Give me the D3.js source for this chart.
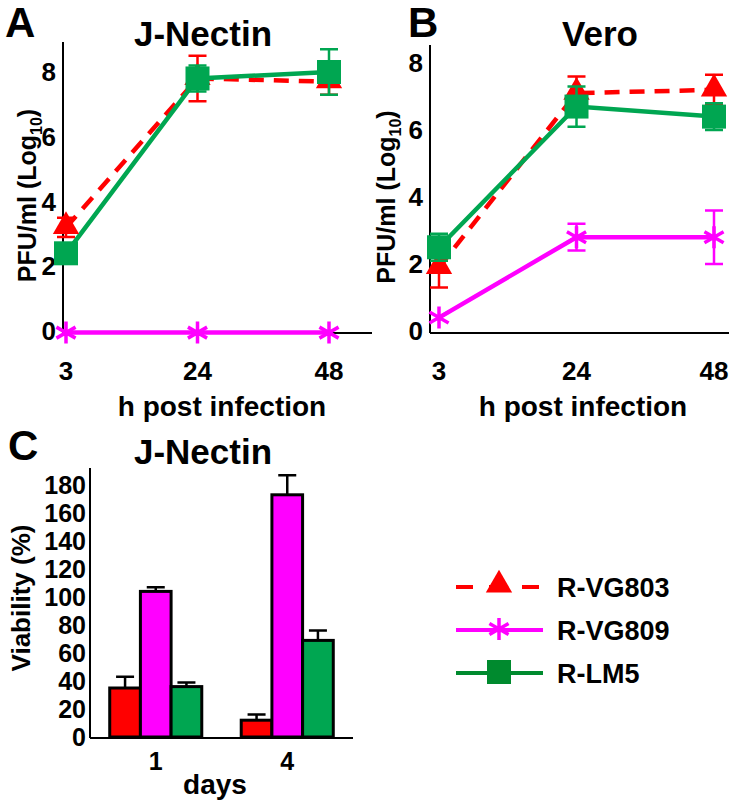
<!DOCTYPE html>
<html>
<head>
<meta charset="utf-8">
<script src="https://cdn.jsdelivr.net/npm/d3@7"></script>
<style>
  body { margin: 0; background: white; }
  text { font-family: "Liberation Sans", Arial, sans-serif; font-weight: bold; }
</style>
</head>
<body>
<div id="main-section"></div>
<script>
const hours = [3, 24, 48];

// panel A, J-Nectin
const a_vg803 = [3.2, 7.8, 7.7];
const a_vg803_err = [0.3, 0.7, 0.4];
const a_vg809 = [-0.05, -0.05, -0.05];
const a_vg809_err = [0, 0, 0];
const a_lm5 = [2.4, 7.8, 8.0];
const a_lm5_err = [0.3, 0.4, 0.7];

// panel B, Vero
const b_vg803 = [1.9, 7.1, 7.2];
const b_vg803_err = [0.6, 0.5, 0.45];
const b_vg809 = [0.4, 2.8, 2.8];
const b_vg809_err = [0, 0.4, 0.8];
const b_lm5 = [2.5, 6.7, 6.4];
const b_lm5_err = [0.4, 0.6, 0.4];

// panel C, viability
const days = ["1", "4"];
const viab_vg803 = [35, 12];
const viab_vg803_err = [8, 4];
const viab_vg809 = [104, 173];
const viab_vg809_err = [3, 14];
const viab_lm5 = [36, 69];
const viab_lm5_err = [3, 7];

const yTicksLog = [0, 2, 4, 6, 8];
const yTicksViab = [0, 20, 40, 60, 80, 100, 120, 140, 160, 180];

const seriesNames = ["R-VG803", "R-VG809", "R-LM5"];
const colors = { "R-VG803": "#ff0000", "R-VG809": "#ff00ff", "R-LM5": "#00a651" };
const legendColors = { "R-VG803": "#ff0000", "R-VG809": "#ff00ff", "R-LM5": "#008a2e" };

const svg = d3.select("#main-section").append("svg")
  .attr("width", 745).attr("height", 800);

function marker(g, name, x, y, color) {
  if (name === "R-VG803") {
    g.append("path")
      .attr("d", d3.symbol().type(d3.symbolTriangle).size(300)())
      .attr("transform", "translate(" + x + "," + (y - 1) + ")")
      .attr("fill", color);
  } else if (name === "R-LM5") {
    g.append("rect")
      .attr("x", x - 12).attr("y", y - 12)
      .attr("width", 24).attr("height", 24)
      .attr("fill", color);
  } else {
    const r = 11;
    g.append("path")
      .attr("d", "M" + x + "," + (y - r) + "V" + (y + r) +
        "M" + (x - r * 0.87) + "," + (y - r * 0.5) + "L" + (x + r * 0.87) + "," + (y + r * 0.5) +
        "M" + (x - r * 0.87) + "," + (y + r * 0.5) + "L" + (x + r * 0.87) + "," + (y - r * 0.5))
      .attr("stroke", color).attr("stroke-width", 3.5).attr("fill", "none");
  }
}

function linePanel(opt) {
  const x = d3.scalePoint().domain(hours).range(opt.xr);
  const y = d3.scaleLinear().domain([0, 8]).range(opt.yr);
  const g = svg.append("g");

  g.append("line").attr("x1", opt.ax).attr("x2", opt.ax).attr("y1", opt.top).attr("y2", opt.base)
    .attr("stroke", "black").attr("stroke-width", 2);
  g.append("line").attr("x1", opt.ax).attr("x2", opt.right).attr("y1", opt.base).attr("y2", opt.base)
    .attr("stroke", "black").attr("stroke-width", 2);

  g.selectAll(".yt").data(yTicksLog).enter().append("text")
    .attr("x", opt.ax - 7).attr("y", function(d) { return y(d) + 9; })
    .attr("text-anchor", "end").attr("font-size", 26).text(function(d) { return d; });
  g.selectAll(".xt").data(hours).enter().append("text")
    .attr("x", function(d) { return x(d); }).attr("y", opt.base + 47)
    .attr("text-anchor", "middle").attr("font-size", 26).text(function(d) { return d; });

  g.append("text").attr("x", opt.labelX).attr("y", opt.base + 83)
    .attr("text-anchor", "middle").attr("font-size", 28).text("h post infection");
  const yl = g.append("text")
    .attr("transform", "translate(" + opt.ylx + "," + ((opt.top + opt.base) / 2 + 8) + ") rotate(-90)")
    .attr("text-anchor", "middle").attr("font-size", 25);
  yl.append("tspan").text("PFU/ml (Log");
  yl.append("tspan").attr("font-size", 16).attr("dy", 6).text("10");
  yl.append("tspan").attr("dy", -6).text(")");

  g.append("text").attr("x", opt.titleX).attr("y", 46).attr("text-anchor", "middle")
    .attr("font-size", 35).text(opt.title);
  g.append("text").attr("x", opt.letterX).attr("y", 37).attr("font-size", 42).text(opt.letter);

  const line = d3.line().x(function(d) { return x(d[0]); }).y(function(d) { return y(d[1]); });
  const order = ["R-VG809", "R-VG803", "R-LM5"];
  order.forEach(function(name) {
    const vals = opt.data[name][0];
    g.append("path").datum(hours.map(function(h, i) { return [h, vals[i]]; }))
      .attr("d", line).attr("fill", "none")
      .attr("stroke", colors[name]).attr("stroke-width", 4.5)
      .attr("stroke-dasharray", name === "R-VG803" ? "15,10" : null);
  });
  order.forEach(function(name) {
    const vals = opt.data[name][0], errs = opt.data[name][1];
    hours.forEach(function(h, i) {
      if (errs[i] > 0) {
        const cx = x(h), y1 = y(vals[i] + errs[i]), y2 = y(vals[i] - errs[i]);
        g.append("path")
          .attr("d", "M" + cx + "," + y1 + "V" + y2 + "M" + (cx - 9) + "," + y1 + "H" + (cx + 9) +
            "M" + (cx - 9) + "," + y2 + "H" + (cx + 9))
          .attr("stroke", colors[name]).attr("stroke-width", 2.5).attr("fill", "none");
      }
      marker(g, name, x(h), y(vals[i]), colors[name]);
    });
  });
}

linePanel({
  xr: [66, 329], yr: [331, 72], ax: 63, top: 42, base: 333, right: 372,
  labelX: 222, ylx: 36, titleX: 203, title: "J-Nectin", letterX: 5, letter: "A",
  data: { "R-VG803": [a_vg803, a_vg803_err], "R-VG809": [a_vg809, a_vg809_err], "R-LM5": [a_lm5, a_lm5_err] }
});
linePanel({
  xr: [439, 714], yr: [331, 63], ax: 430, top: 45, base: 333, right: 729,
  labelX: 583, ylx: 395, titleX: 600, title: "Vero", letterX: 408, letter: "B",
  data: { "R-VG803": [b_vg803, b_vg803_err], "R-VG809": [b_vg809, b_vg809_err], "R-LM5": [b_lm5, b_lm5_err] }
});

// panel C
const cg = svg.append("g");
const x0 = d3.scaleBand().domain(days).range([90, 353]).paddingInner(0.3).paddingOuter(0.15);
const x1 = d3.scaleBand().domain(seriesNames).range([0, x0.bandwidth()]);
const yc = d3.scaleLinear().domain([0, 180]).range([737, 485]);
const viab = { "R-VG803": [viab_vg803, viab_vg803_err], "R-VG809": [viab_vg809, viab_vg809_err], "R-LM5": [viab_lm5, viab_lm5_err] };

seriesNames.forEach(function(name) {
  days.forEach(function(d, i) {
    const bx = x0(d) + x1(name), v = viab[name][0][i], e = viab[name][1][i];
    const cx = bx + x1.bandwidth() / 2;
    cg.append("path")
      .attr("d", "M" + cx + "," + yc(v) + "V" + yc(v + e) + "M" + (cx - 9) + "," + yc(v + e) + "H" + (cx + 9))
      .attr("stroke", "black").attr("stroke-width", 2.5).attr("fill", "none");
    cg.append("rect").attr("x", bx).attr("y", yc(v))
      .attr("width", x1.bandwidth()).attr("height", yc(0) - yc(v))
      .attr("fill", colors[name]).attr("stroke", "black").attr("stroke-width", 3);
  });
});

cg.append("line").attr("x1", 90).attr("x2", 90).attr("y1", 468).attr("y2", 738)
  .attr("stroke", "black").attr("stroke-width", 2);
cg.append("line").attr("x1", 90).attr("x2", 353).attr("y1", 738).attr("y2", 738)
  .attr("stroke", "black").attr("stroke-width", 2);
cg.selectAll(".yt").data(yTicksViab).enter().append("text")
  .attr("x", 86).attr("y", function(d) { return yc(d) + 9; })
  .attr("text-anchor", "end").attr("font-size", 25).text(function(d) { return d; });
cg.selectAll(".xt").data(days).enter().append("text")
  .attr("x", function(d) { return x0(d) + x0.bandwidth() / 2; }).attr("y", 770)
  .attr("text-anchor", "middle").attr("font-size", 25).text(function(d) { return d; });
cg.append("text").attr("x", 215).attr("y", 794).attr("text-anchor", "middle")
  .attr("font-size", 28).text("days");
cg.append("text").attr("transform", "translate(30,598) rotate(-90)")
  .attr("text-anchor", "middle").attr("font-size", 26).text("Viability (%)");
cg.append("text").attr("x", 203).attr("y", 464).attr("text-anchor", "middle")
  .attr("font-size", 35).text("J-Nectin");
cg.append("text").attr("x", 8).attr("y", 460).attr("font-size", 42).text("C");

// legend
const lg = svg.append("g");
seriesNames.forEach(function(name, i) {
  const ly = 587 + i * 43;
  lg.append("line").attr("x1", 456).attr("x2", 543).attr("y1", ly).attr("y2", ly)
    .attr("stroke", legendColors[name]).attr("stroke-width", 4)
    .attr("stroke-dasharray", name === "R-VG803" ? "17,16" : null);
  marker(lg, name, 499, ly - 1, legendColors[name]);
  lg.append("text").attr("x", 557).attr("y", ly + 10).attr("font-size", 27).text(name);
});
</script>
</body>
</html>
